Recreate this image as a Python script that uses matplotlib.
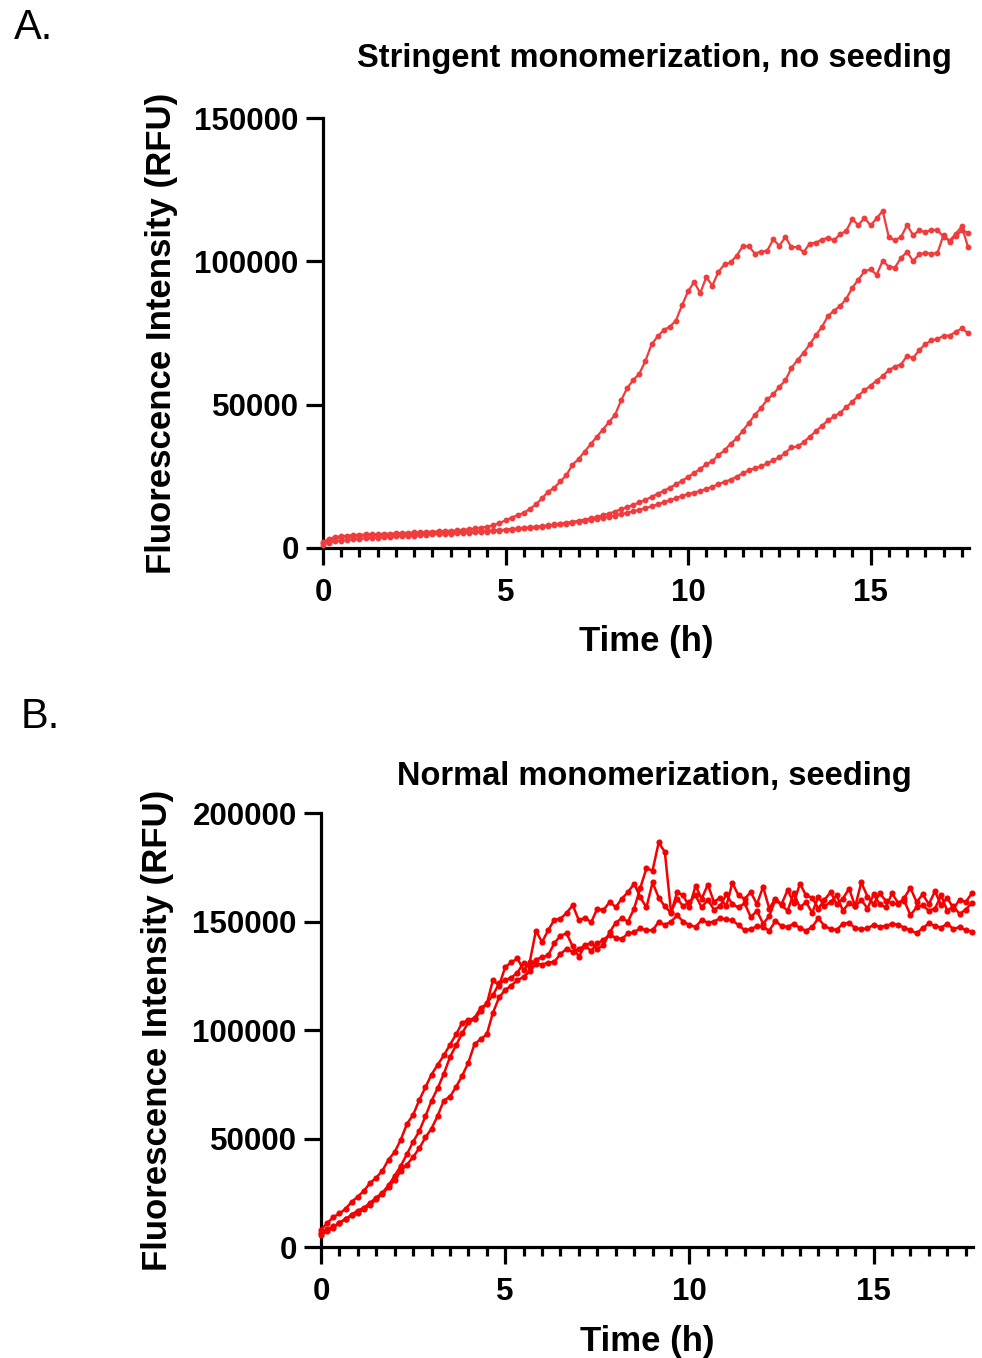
import numpy as np
import matplotlib
matplotlib.use('Agg')
import matplotlib.pyplot as plt
from matplotlib.ticker import MultipleLocator

plt.rcParams['font.family'] = ['Liberation Sans', 'DejaVu Sans']
plt.rcParams['font.weight'] = 'bold'
plt.rcParams['axes.labelweight'] = 'bold'

# readings every 10 min, 0 - 17.67 h
time_h = np.arange(107) / 6.0

# panel A, RFU in thousands
stringent_1 = [2.0, 3.2, 3.8, 4.1, 4.3, 4.5, 4.6, 4.7, 4.8, 4.8,
               4.9, 5.0, 5.1, 5.2, 5.3, 5.4, 5.5, 5.6, 5.7, 5.8,
               5.9, 6.0, 6.1, 6.3, 6.5, 6.8, 7.1, 7.4, 7.9, 8.7,
               9.6, 10.6, 11.4, 12.3, 13.6, 15.2, 17.3, 19.6, 21.0, 23.2,
               25.4, 29.0, 31.0, 33.6, 36.2, 38.8, 41.3, 43.9, 46.4, 51.5,
               55.8, 58.6, 60.8, 65.3, 71.0, 73.8, 76.0, 77.2, 79.3, 84.6,
               89.5, 92.8, 88.9, 94.5, 91.5, 96.4, 98.9, 99.6, 102.0, 105.3,
               105.2, 102.7, 103.4, 103.6, 107.7, 105.4, 108.5, 104.9, 105.0, 103.2,
               106.2, 106.5, 107.6, 108.2, 107.3, 109.5, 110.6, 114.8, 112.6, 115.2,
               112.5, 115.0, 117.6, 108.4, 107.3, 108.5, 112.6, 109.1, 110.8, 110.2,
               111.0, 110.9, 108.5, 107.2, 109.6, 112.2, 105.1]
stringent_2 = [1.8, 2.6, 3.3, 3.7, 3.9, 4.1, 4.2, 4.3, 4.4, 4.5,
               4.6, 4.6, 4.7, 4.8, 4.9, 5.0, 5.0, 5.1, 5.2, 5.3,
               5.3, 5.4, 5.5, 5.6, 5.7, 5.8, 5.9, 6.0, 6.1, 6.3,
               6.4, 6.6, 6.8, 7.0, 7.2, 7.4, 7.6, 7.9, 8.2, 8.5,
               8.8, 9.1, 9.5, 9.9, 10.3, 10.8, 11.4, 12.0, 12.7, 13.5,
               14.3, 15.0, 15.9, 16.8, 17.8, 18.9, 19.9, 21.0, 22.2, 23.4,
               24.8, 26.1, 27.6, 29.2, 30.3, 32.4, 34.0, 36.4, 38.2, 40.9,
               43.6, 46.5, 48.8, 51.8, 53.6, 56.2, 58.5, 62.8, 65.6, 68.1,
               71.0, 74.2, 77.1, 80.9, 82.8, 84.4, 86.9, 90.8, 93.6, 96.5,
               97.2, 95.3, 100.2, 98.1, 97.8, 101.2, 103.3, 100.1, 102.4, 103.0,
               102.6, 102.9, 109.3, 106.9, 108.8, 110.8, 110.0]
stringent_3 = [1.2, 1.9, 2.3, 2.6, 2.8, 3.0, 3.2, 3.3, 3.5, 3.6,
               3.8, 3.9, 4.0, 4.1, 4.2, 4.3, 4.4, 4.6, 4.7, 4.8,
               4.9, 5.0, 5.1, 5.2, 5.3, 5.5, 5.6, 5.7, 5.9, 6.0,
               6.2, 6.4, 6.6, 6.8, 7.0, 7.2, 7.4, 7.7, 7.9, 8.2,
               8.5, 8.8, 9.1, 9.4, 9.8, 10.1, 10.5, 10.9, 11.3, 11.8,
               12.3, 12.8, 13.3, 13.9, 14.5, 15.2, 15.9, 16.6, 17.4, 18.2,
               18.8, 19.3, 19.9, 20.6, 21.4, 22.2, 23.1, 23.8, 24.9, 26.0,
               27.1, 27.8, 28.5, 29.5, 30.6, 31.6, 33.2, 35.1, 35.4, 36.9,
               38.8, 40.7, 42.6, 44.5, 45.9, 47.2, 49.1, 51.0, 53.1, 55.0,
               56.6, 58.4, 60.0, 62.0, 63.3, 64.0, 67.0, 66.3, 69.0, 71.1,
               72.4, 72.9, 74.0, 74.1, 75.4, 76.6, 75.0]

# panel B, RFU in thousands
seeded_1 = [8.0, 11.0, 13.8, 15.5, 17.6, 20.9, 23.2, 26.0, 29.5, 32.0,
            35.2, 40.3, 43.8, 49.5, 56.8, 60.9, 67.7, 73.6, 79.5, 84.0,
            88.3, 93.2, 98.0, 103.4, 104.5, 105.6, 110.2, 112.0, 123.0, 120.5,
            129.0, 131.2, 133.0, 127.5, 131.4, 145.8, 140.5, 146.0, 150.8, 151.3,
            154.0, 157.5, 150.5, 151.8, 149.6, 156.0, 155.2, 159.0, 156.7, 160.5,
            163.6, 167.4, 161.2, 156.5, 168.0, 161.0, 157.0, 154.0, 163.5, 162.0,
            156.6, 166.5, 160.5, 167.0, 159.0, 161.0, 157.0, 167.8, 162.0, 160.5,
            163.5, 158.0, 166.0, 156.0, 160.5, 158.0, 164.5, 158.5, 167.5, 162.0,
            161.0, 156.0, 160.0, 163.5, 158.0, 160.5, 165.2, 157.0, 168.0, 161.5,
            158.0, 163.0, 159.5, 158.5, 158.0, 161.0, 165.5, 159.0, 162.5, 158.0,
            164.0, 157.5, 161.0, 156.0, 160.0, 159.0, 163.0]
seeded_2 = [6.5, 8.2, 9.6, 11.0, 12.8, 15.0, 16.8, 18.2, 20.4, 22.8,
            25.0, 28.5, 32.8, 37.5, 42.8, 48.5, 53.4, 60.2, 67.4, 73.2,
            79.8, 87.5, 93.0, 98.6, 103.5, 105.0, 108.6, 112.5, 116.0, 121.5,
            123.0, 124.2, 126.5, 131.0, 129.0, 132.5, 133.5, 134.5, 140.0, 143.5,
            144.5, 138.5, 133.8, 139.0, 140.2, 137.5, 139.0, 145.0, 149.5, 151.5,
            150.0, 156.0, 165.5, 174.5, 173.5, 186.5, 182.0, 154.5, 160.5, 157.0,
            159.0, 162.0, 156.5, 160.0, 155.5, 157.0, 162.5, 158.0, 156.5, 158.5,
            152.0, 155.0, 149.0, 152.5, 160.0, 157.5, 155.0, 163.0, 156.5, 159.0,
            154.0, 161.5, 157.0, 159.0, 162.0, 155.0, 158.5, 157.0, 160.0, 156.0,
            162.5, 158.0, 156.5, 163.0, 158.5, 159.5, 153.0, 156.5, 157.5, 155.0,
            156.0, 162.0, 155.0, 157.0, 153.5, 155.5, 158.5]
seeded_3 = [5.5, 7.2, 9.0, 11.2, 13.0, 14.6, 15.8, 17.6, 19.4, 22.0,
            24.6, 27.5, 31.0, 35.0, 38.0, 41.5, 45.5, 50.5, 54.6, 60.5,
            67.5, 69.3, 73.8, 79.0, 85.0, 93.5, 95.8, 98.0, 108.0, 115.0,
            118.5, 120.5, 123.0, 124.5, 127.0, 130.5, 130.2, 131.0, 131.5, 135.0,
            137.5, 136.0, 137.5, 138.8, 136.5, 140.0, 141.5, 144.0, 142.5, 142.0,
            144.5, 145.0, 146.9, 146.0, 146.0, 149.8, 148.5, 149.9, 152.8, 150.0,
            148.4, 147.5, 150.7, 149.5, 150.0, 151.5, 151.0, 150.5, 148.4, 146.0,
            146.5, 147.8, 147.5, 145.8, 150.2, 148.0, 147.5, 149.0, 147.0, 145.8,
            147.5, 151.5, 148.0, 146.5, 146.2, 149.0, 149.4, 147.0, 146.5, 146.8,
            148.5, 147.6, 148.0, 149.0, 148.5, 147.2, 146.0, 144.6, 147.0, 149.1,
            148.0, 147.2, 149.0, 146.5, 147.5, 146.0, 145.3]

fig = plt.figure(figsize=(9.82, 13.58), dpi=100)


def style(ax, ymax, ystep):
    ax.set_xlim(0, 17.7)
    ax.set_ylim(0, ymax)
    ax.spines[['top', 'right']].set_visible(False)
    ax.spines['left'].set_linewidth(2.3)
    ax.spines['bottom'].set_linewidth(2.3)
    ax.xaxis.set_major_locator(MultipleLocator(5))
    ax.xaxis.set_minor_locator(MultipleLocator(0.5))
    ax.yaxis.set_major_locator(MultipleLocator(ystep))
    ax.tick_params(which='major', length=12.5, width=2.3, labelsize=22.5)
    ax.tick_params(axis='y', which='major', pad=5)
    ax.tick_params(axis='x', which='major', pad=9)
    ax.tick_params(axis='x', which='minor', length=6.5, width=2.3)
    ax.set_xlabel('Time (h)', fontsize=25, fontweight='bold')
    ax.set_ylabel('Fluorescence Intensity (RFU)', fontsize=25,
                  fontweight='bold')
    ax.xaxis.set_label_coords(0.5, -0.18)
    ax.yaxis.set_label_coords(-0.225, 0.5)


# A
axA = fig.add_axes([0.3289, 0.5965, 0.658, 0.3166])
for vals in [stringent_1, stringent_2, stringent_3]:
    axA.plot(time_h, np.array(vals) * 1000, '-o', color='#f03c3c', lw=1.6,
             ms=3.2, clip_on=False, zorder=3)
style(axA, 150000, 50000)

# B
axB = fig.add_axes([0.3269, 0.0817, 0.664, 0.3196])
for vals in [seeded_1, seeded_2, seeded_3]:
    axB.plot(time_h, np.array(vals) * 1000, '-o', color='#f50000', lw=1.8,
             ms=3.4, clip_on=False, zorder=3)
style(axB, 200000, 50000)

fig.text(654 / 982, 1 - 58 / 1358, 'Stringent monomerization, no seeding',
         fontsize=23.5, ha='center', va='center')
fig.text(654 / 982, 1 - 777 / 1358, 'Normal monomerization, seeding',
         fontsize=23.5, ha='center', va='center')
fig.text(14 / 982, 1 - 28 / 1358, 'A.', fontsize=30, fontweight='normal',
         ha='left', va='center')
fig.text(21 / 982, 1 - 717 / 1358, 'B.', fontsize=30, fontweight='normal',
         ha='left', va='center')

fig.savefig('out.png', dpi=100)
